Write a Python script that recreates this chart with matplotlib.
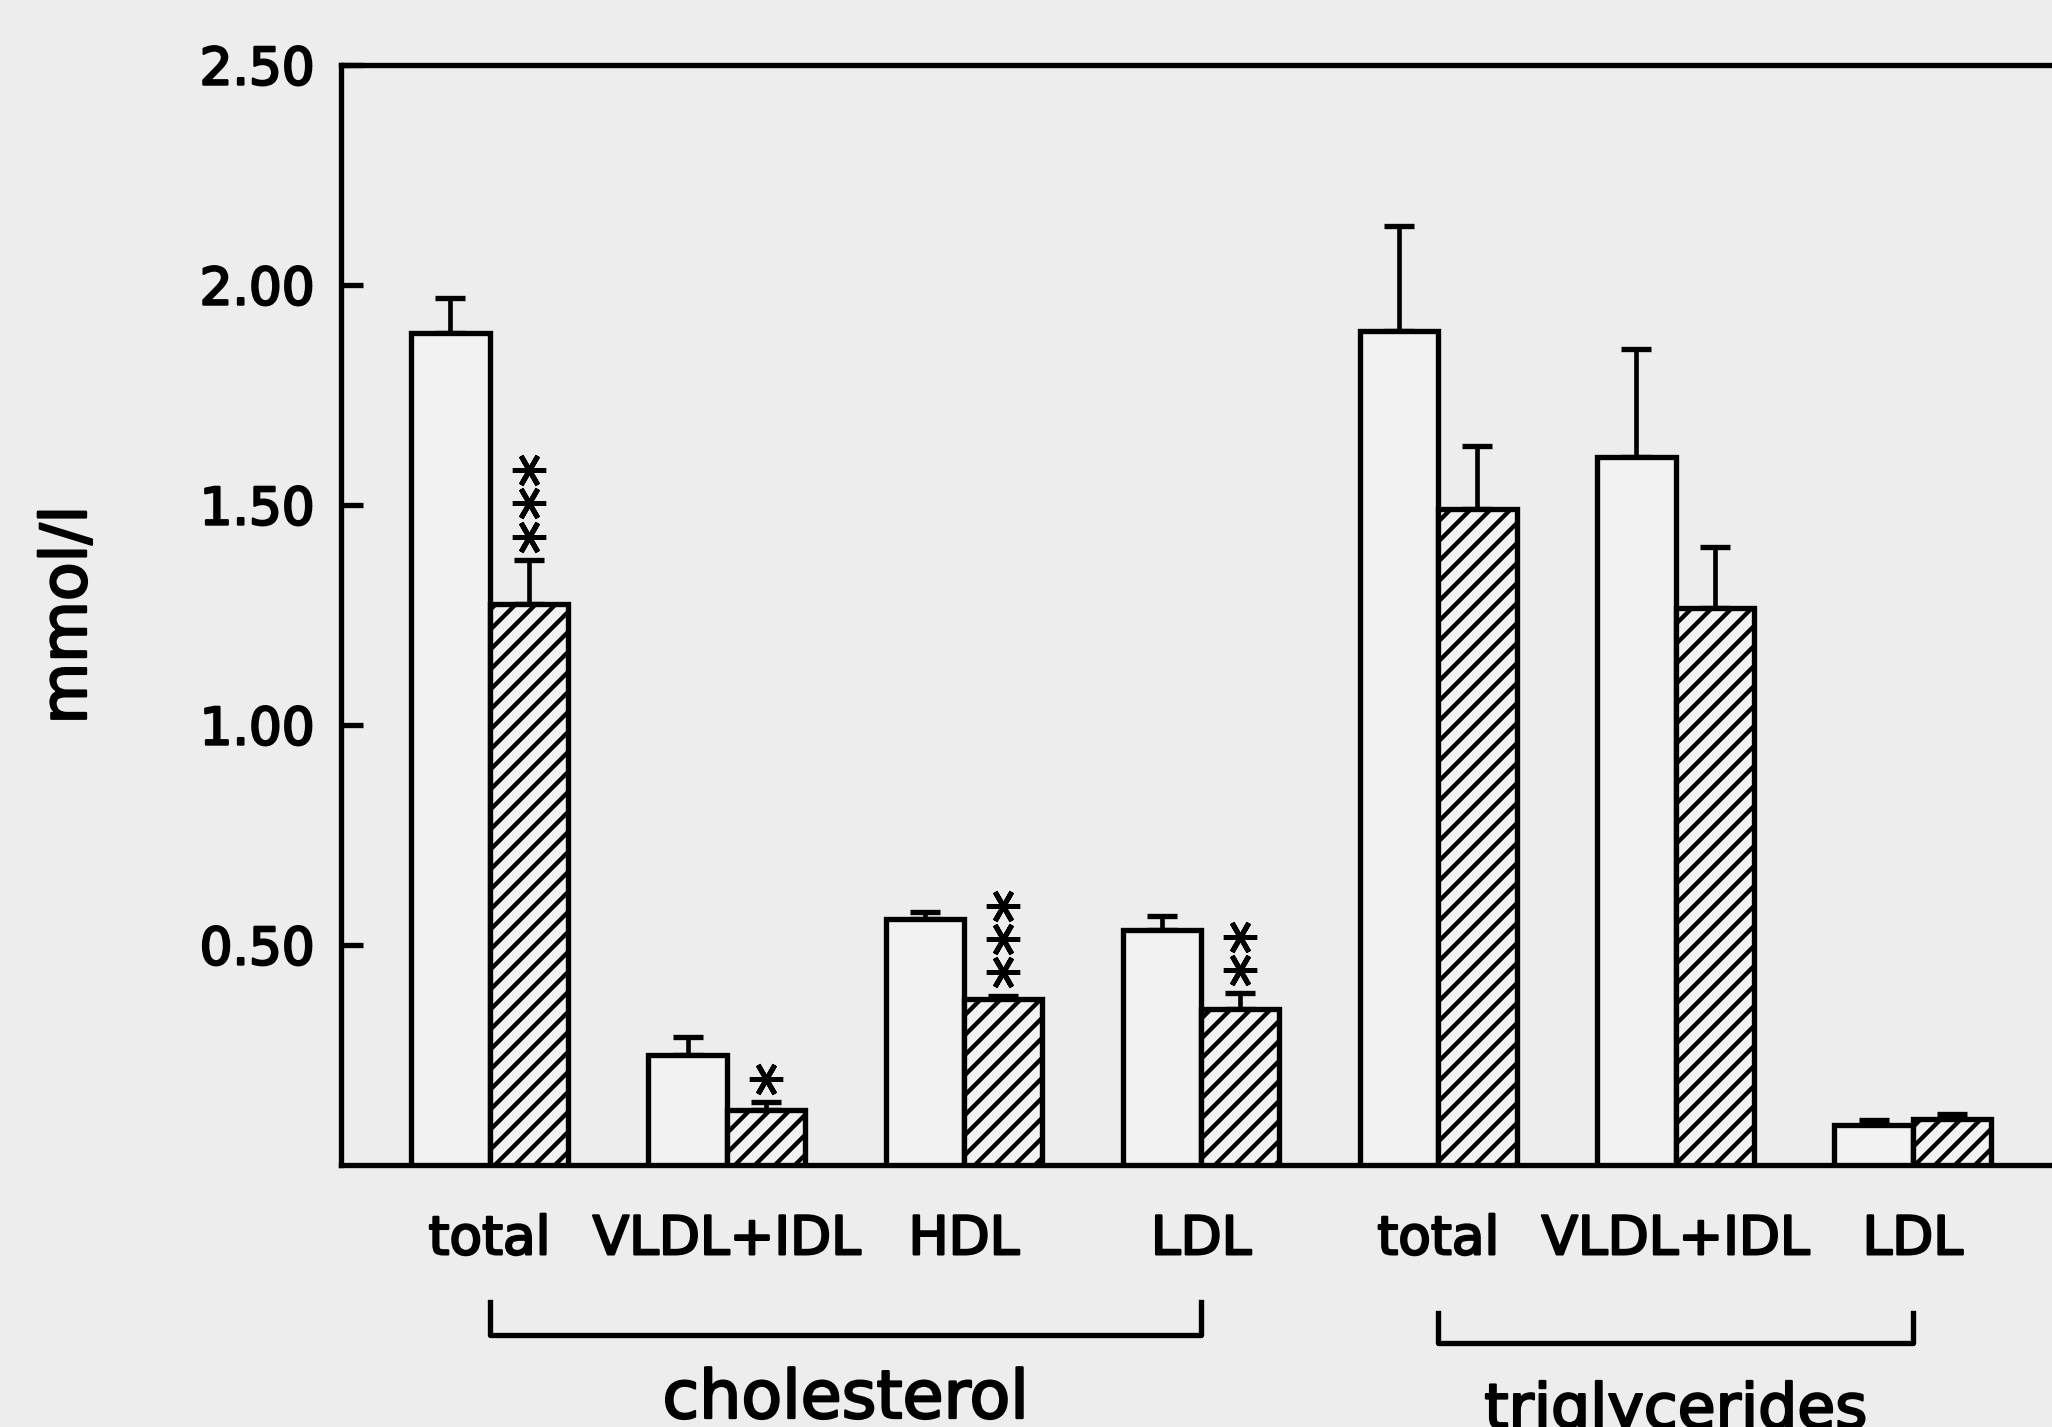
import numpy as np
import matplotlib
matplotlib.use("Agg")
import matplotlib.pyplot as plt
import matplotlib.transforms as mtransforms
import matplotlib.patheffects as pe

# --- data (mmol/l, mean + SEM) ---
labels = ['total', 'VLDL+IDL', 'HDL', 'LDL', 'total', 'VLDL+IDL', 'LDL']
control_mean = [1.89, 0.25, 0.56, 0.535, 1.895, 1.61, 0.09]
control_err = [0.08, 0.04, 0.015, 0.03, 0.24, 0.245, 0.012]
treated_mean = [1.275, 0.125, 0.377, 0.355, 1.49, 1.265, 0.105]
treated_err = [0.10, 0.018, 0.008, 0.035, 0.145, 0.14, 0.012]
stars = [3, 1, 3, 2, 0, 0, 0]
groups = [('cholesterol', 0, 3), ('triglycerides', 4, 6)]
yticks = [0.5, 1.0, 1.5, 2.0, 2.5]

BG = '#ededed'
LW = 3.2
plt.rcParams['hatch.linewidth'] = 2.6
plt.rcParams['font.family'] = 'DejaVu Sans'
heavy = [pe.withStroke(linewidth=1.4, foreground='black')]

fig = plt.figure(figsize=(2052 / 120, 1427 / 120), dpi=120, facecolor=BG)
ax = fig.add_axes([0.1662, 0.1836, 0.8338, 0.7708], facecolor=BG)

x = np.arange(len(labels))
w = 0.33

ax.bar(x - w / 2, control_mean, w, facecolor='#f2f2f2', edgecolor='black', linewidth=LW, zorder=3)
ax.bar(x + w / 2, treated_mean, w, facecolor='#f2f2f2', edgecolor='black', linewidth=LW,
       hatch='//', zorder=3)

zeros = np.zeros(len(labels))
ax.errorbar(x - w / 2, control_mean, yerr=[zeros, control_err], fmt='none', ecolor='black',
            elinewidth=2.8, capsize=9, capthick=3.2, zorder=2)
ax.errorbar(x + w / 2, treated_mean, yerr=[zeros, treated_err], fmt='none', ecolor='black',
            elinewidth=2.8, capsize=9, capthick=3.2, zorder=2)

# significance stars stacked above the treated bars
tops = np.array(treated_mean) + np.array(treated_err)
for i, n in enumerate(stars):
    for k in range(n):
        tr = mtransforms.offset_copy(ax.transData, fig=fig, y=14 + 20 * k, units='points')
        ax.plot(x[i] + w / 2, tops[i], marker=(6, 2, 90), ms=20, mew=3, color='black',
                transform=tr, clip_on=False, zorder=4)

ax.set_xlim(-0.626, 6.587)
ax.set_ylim(0, 2.5)
ax.set_yticks(yticks)
ax.set_yticklabels([f'{v:.2f}' for v in yticks])
ax.set_xticks(x)
ax.set_xticklabels(labels)

ax.tick_params(axis='y', direction='in', length=13, width=LW, pad=16, labelsize=31)
ax.tick_params(axis='x', length=0, pad=29, labelsize=32)
for t in ax.get_xticklabels() + ax.get_yticklabels():
    t.set_path_effects(heavy)

for side in ['left', 'top', 'bottom']:
    ax.spines[side].set_linewidth(LW)
ax.spines['right'].set_visible(False)

ax.text(-0.159, 0.5, 'mmol/l', transform=ax.transAxes, rotation=90, ha='center', va='center',
        fontsize=38, path_effects=heavy)

# group brackets under the category labels
trans = mtransforms.blended_transform_factory(ax.transData, ax.transAxes)
bracket_y = [(-0.1545, -0.125), (-0.162, -0.1345)]
name_y = [-0.230, -0.239]
name_size = [40, 37]
for (name, a, b), (yl, yt), ny, fs in zip(groups, bracket_y, name_y, name_size):
    ax.plot([a, a, b, b], [yt, yl, yl, yt], color='black', lw=LW, transform=trans, clip_on=False)
    ax.text((a + b) / 2, ny, name, transform=trans, ha='center', va='baseline', fontsize=fs,
            path_effects=heavy)

fig.savefig('out.png', dpi=120, facecolor=BG)
